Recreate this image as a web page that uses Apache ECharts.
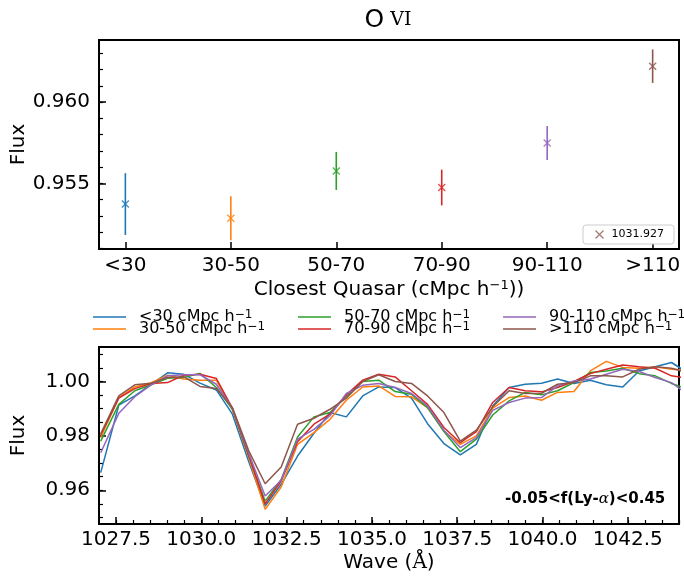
<!DOCTYPE html>
<html>
<head>
<meta charset="utf-8">
<script src="https://cdn.jsdelivr.net/npm/echarts@6/dist/echarts.min.js"></script>
<style>
  html, body { margin: 0; padding: 0; background: #fff; }
  #chart { width: 684px; height: 576px; }
</style>
</head>
<body>
<div id="chart"></div>
<script>
// top panel: flux at 1031.927 per closest-quasar bin
var groups = ['<30', '30-50', '50-70', '70-90', '90-110', '>110'];
var groupFlux = [0.95373, 0.95286, 0.95577, 0.95475, 0.95749, 0.96221];
var groupErr = [0.0019, 0.00135, 0.00117, 0.0011, 0.00105, 0.00103];

// bottom panel: stacked spectra
var wave = [1027.05, 1027.58, 1028.05, 1028.53, 1029.01, 1029.48, 1029.96, 1030.44, 1030.91, 1031.39,
  1031.87, 1032.34, 1032.82, 1033.30, 1033.77, 1034.25, 1034.73, 1035.20, 1035.68, 1036.16,
  1036.63, 1037.11, 1037.59, 1038.06, 1038.54, 1039.02, 1039.49, 1039.97, 1040.44, 1040.92,
  1041.40, 1041.87, 1042.35, 1042.83, 1043.30, 1043.78, 1044.26];
var fluxLt30 = [0.9665, 0.9913, 0.9947, 0.9990, 1.0032, 1.0027, 0.9994, 0.9969, 0.9880, 0.9705,
  0.9542, 0.9622, 0.9726, 0.9810, 0.9886, 0.9870, 0.9947, 0.9980, 0.9978, 0.9939,
  0.9845, 0.9772, 0.9730, 0.9769, 0.9910, 0.9978, 0.9990, 0.9994, 1.0009, 0.9993,
  1.0005, 0.9988, 0.9980, 1.0039, 1.0054, 1.0070, 1.0032];
var flux30_50 = [0.9794, 0.9941, 0.9980, 0.9996, 1.0023, 1.0009, 1.0005, 1.0005, 0.9896, 0.9720,
  0.9530, 0.9612, 0.9769, 0.9812, 0.9861, 0.9931, 0.9980, 0.9984, 0.9945, 0.9944,
  0.9904, 0.9818, 0.9769, 0.9800, 0.9902, 0.9941, 0.9947, 0.9931, 0.9960, 0.9963,
  1.0039, 1.0074, 1.0052, 1.0049, 1.0054, 1.0045, 1.0042];
var flux50_70 = [0.9781, 0.9916, 0.9966, 0.9988, 1.0012, 1.0015, 1.0030, 0.9978, 0.9898, 0.9726,
  0.9560, 0.9640, 0.9796, 0.9870, 0.9886, 0.9947, 1.0000, 1.0005, 0.9963, 0.9953,
  0.9904, 0.9816, 0.9742, 0.9788, 0.9877, 0.9929, 0.9960, 0.9951, 0.9966, 0.9996,
  1.0033, 1.0039, 1.0049, 1.0029, 1.0021, 0.9993, 0.9972];
var flux70_90 = [0.9804, 0.9939, 0.9974, 0.9993, 0.9996, 1.0023, 1.0027, 1.0011, 0.9902, 0.9729,
  0.9550, 0.9634, 0.9779, 0.9843, 0.9880, 0.9951, 1.0005, 1.0027, 1.0017, 0.9966,
  0.9916, 0.9831, 0.9775, 0.9816, 0.9923, 0.9978, 0.9966, 0.9962, 0.9978, 1.0000,
  1.0029, 1.0045, 1.0061, 1.0054, 1.0049, 1.0021, 1.0012];
var flux90_110 = [0.9738, 0.9883, 0.9944, 0.9988, 1.0021, 1.0025, 1.0025, 0.9990, 0.9901, 0.9735,
  0.9579, 0.9637, 0.9788, 0.9824, 0.9874, 0.9956, 0.9986, 0.9993, 0.9978, 0.9956,
  0.9910, 0.9821, 0.9757, 0.9794, 0.9894, 0.9923, 0.9939, 0.9941, 0.9984, 1.0002,
  1.0009, 1.0027, 1.0045, 1.0037, 1.0015, 0.9996, 0.9952];
var fluxGt110 = [0.9808, 0.9947, 0.9988, 0.9994, 1.0015, 1.0018, 0.9982, 0.9974, 0.9904, 0.9745,
  0.9624, 0.9686, 0.9843, 0.9865, 0.9898, 0.9939, 1.0000, 1.0025, 1.0000, 0.9993,
  0.9947, 0.9886, 0.9781, 0.9821, 0.9907, 0.9966, 0.9956, 0.9957, 0.9990, 0.9996,
  1.0021, 1.0021, 1.0017, 1.0045, 1.0054, 1.0049, 1.0032];
var spectra = [fluxLt30, flux30_50, flux50_70, flux70_90, flux90_110, fluxGt110];
var specNames = ['<30 cMpc h', '30-50 cMpc h', '50-70 cMpc h', '70-90 cMpc h', '90-110 cMpc h', '>110 cMpc h'];

// ticks
var topYTicks = [0.955, 0.960];
var topYMinor = [0.951, 0.952, 0.953, 0.954, 0.955, 0.956, 0.957, 0.958, 0.959, 0.960, 0.961, 0.962, 0.963];
var botYTicks = [0.96, 0.98, 1.00];
var botXTicks = [1027.5, 1030.0, 1032.5, 1035.0, 1037.5, 1040.0, 1042.5];

var colors = ['#1f77b4', '#ff7f0e', '#2ca02c', '#d62728', '#9467bd', '#8c564b'];
var FONT = 'DejaVu Sans';
var xMark = 'path://M0,0L10,10M0,10L10,0';

var botYMinor = [];
for (var v = 0.950; v < 1.0126; v += 0.005) botYMinor.push(+v.toFixed(3));
var botXMinor = [];
for (var w = 1027.5; w <= 1044.001; w += 0.5) botXMinor.push(+w.toFixed(1));

var chart = echarts.init(document.getElementById('chart'), null, { renderer: 'canvas' });

var tickStyle = { color: '#000', width: 1.5 };
var minorStyle = { color: '#000', width: 1.2 };

function axis(extra) {
  var a = {
    axisLine: { show: false, onZero: false },
    splitLine: { show: false },
    minorTick: { show: false },
    nameMoveOverlap: false
  };
  for (var k in extra) a[k] = extra[k];
  return a;
}
function minorAxis(pos, gridIndex, min, max, vals) {
  return axis({
    type: 'value', gridIndex: gridIndex, min: min, max: max, position: pos,
    axisLabel: { show: false },
    axisTick: { inside: true, length: 4, lineStyle: minorStyle, customValues: vals }
  });
}

var grids = [
  { left: 99, top: 40, width: 580, height: 209, show: true, borderColor: '#000', borderWidth: 2,
    containLabel: false, outerBoundsMode: 'none' },
  { left: 99, top: 347, width: 580, height: 177, show: true, borderColor: '#000', borderWidth: 2,
    containLabel: false, outerBoundsMode: 'none' }
];

var xAxes = [
  axis({
    type: 'value', gridIndex: 0, min: -0.25, max: 5.25, position: 'bottom',
    name: '{a|Closest Quasar (cMpc h}{s|−1}{a|))}', nameLocation: 'middle', nameGap: 30,
    nameTextStyle: { rich: {
      a: { fontFamily: FONT, fontSize: 20, color: '#000', lineHeight: 22 },
      s: { fontFamily: FONT, fontSize: 13, color: '#000', verticalAlign: 'top', lineHeight: 22 }
    } },
    axisTick: { inside: true, length: 7, lineStyle: tickStyle, customValues: [0, 1, 2, 3, 4, 5] },
    axisLabel: { color: '#000', fontFamily: FONT, fontSize: 20, margin: 7, customValues: [0, 1, 2, 3, 4, 5],
      formatter: function (v) { return groups[Math.round(v)]; } }
  }),
  axis({
    type: 'value', gridIndex: 1, min: 1027, max: 1044, position: 'bottom',
    name: '{a|Wave (}{b|Å}{a|)}', nameLocation: 'middle', nameGap: 29,
    nameTextStyle: { rich: {
      a: { fontFamily: FONT, fontSize: 20, color: '#000' },
      b: { fontFamily: 'DejaVu Serif', fontSize: 20, color: '#000' }
    } },
    axisTick: { inside: true, length: 7, lineStyle: tickStyle, customValues: botXTicks },
    axisLabel: { color: '#000', fontFamily: FONT, fontSize: 20, margin: 6, customValues: botXTicks,
      formatter: function (v) { return v.toFixed(1); } }
  }),
  minorAxis('bottom', 1, 1027, 1044, botXMinor)
];

var yAxes = [
  axis({
    type: 'value', gridIndex: 0, min: 0.95097, max: 0.96382, position: 'left',
    name: 'Flux', nameLocation: 'middle', nameGap: 70,
    nameTextStyle: { fontFamily: FONT, fontSize: 20, color: '#000' },
    axisTick: { inside: true, length: 7, lineStyle: tickStyle, customValues: topYTicks },
    axisLabel: { color: '#000', fontFamily: FONT, fontSize: 20, margin: 9, customValues: topYTicks,
      formatter: function (v) { return v.toFixed(3); } }
  }),
  axis({
    type: 'value', gridIndex: 1, min: 0.9476, max: 1.0127, position: 'left',
    name: 'Flux', nameLocation: 'middle', nameGap: 70,
    nameTextStyle: { fontFamily: FONT, fontSize: 20, color: '#000' },
    axisTick: { inside: true, length: 7, lineStyle: tickStyle, customValues: botYTicks },
    axisLabel: { color: '#000', fontFamily: FONT, fontSize: 20, margin: 9, customValues: botYTicks,
      formatter: function (v) { return v.toFixed(2); } }
  }),
  minorAxis('left', 0, 0.95097, 0.96382, topYMinor),
  minorAxis('left', 1, 0.9476, 1.0127, botYMinor)
];

var series = [];

// error bars
series.push({
  type: 'custom',
  name: 'err',
  xAxisIndex: 0, yAxisIndex: 0,
  data: groups.map(function (g, i) { return [i, groupFlux[i], groupErr[i]]; }),
  encode: { x: 0, y: 1 },
  renderItem: function (params, api) {
    var x = api.value(0), y = api.value(1), e = api.value(2);
    var p1 = api.coord([x, y - e]);
    var p2 = api.coord([x, y + e]);
    return {
      type: 'line',
      shape: { x1: p1[0], y1: p1[1], x2: p2[0], y2: p2[1] },
      style: { stroke: colors[params.dataIndex], lineWidth: 1.6 }
    };
  },
  silent: true
});

// x markers
series.push({
  type: 'scatter',
  name: '1031.927',
  xAxisIndex: 0, yAxisIndex: 0,
  symbol: xMark,
  symbolSize: 7,
  itemStyle: { color: 'none', borderColor: colors[5], borderWidth: 1.4 },
  data: groups.map(function (g, i) {
    return { value: [i, groupFlux[i]], itemStyle: { color: 'none', borderColor: colors[i], borderWidth: 1.4 } };
  }),
  z: 5
});

// spectra
spectra.forEach(function (arr, si) {
  series.push({
    type: 'line',
    name: specNames[si],
    xAxisIndex: 1, yAxisIndex: 1,
    symbol: 'none',
    showSymbol: false,
    lineStyle: { color: colors[si], width: 1.5 },
    itemStyle: { color: colors[si] },
    data: wave.map(function (w, k) { return [w, arr[k]]; })
  });
});

var legends = [{
  data: [{ name: '1031.927', icon: xMark, itemStyle: { color: 'none', borderColor: colors[5], borderWidth: 1.2 } }],
  left: 583, top: 225,
  itemWidth: 8, itemHeight: 8,
  padding: [3, 10, 3, 10],
  backgroundColor: '#fff',
  borderColor: '#cccccc', borderWidth: 1, borderRadius: 3,
  textStyle: { fontFamily: FONT, fontSize: 11, color: '#000', lineHeight: 12, padding: [0, 0, 0, 3] },
  selectedMode: false
}];

var legendPos = [[93, 309], [93, 321], [298, 309], [298, 321], [503, 309], [503, 321]];
specNames.forEach(function (n, i) {
  legends.push({
    data: [{ name: n, icon: 'rect', itemStyle: { color: colors[i] } }],
    left: legendPos[i][0], top: legendPos[i][1],
    itemWidth: 33, itemHeight: 1.6,
    padding: 0,
    selectedMode: false,
    formatter: function (name) { return '{a|' + name + '}{s|−1}'; },
    textStyle: {
      color: '#000', padding: [0, 0, 0, 8],
      rich: {
        a: { fontFamily: FONT, fontSize: 16, color: '#000', lineHeight: 16 },
        s: { fontFamily: FONT, fontSize: 12, color: '#000', verticalAlign: 'top', lineHeight: 16 }
      }
    }
  });
});

var option = {
  animation: false,
  backgroundColor: '#fff',
  title: {
    text: '{o|O}{v| VI}',
    left: 383, top: 3, textAlign: 'center',
    textStyle: { rich: {
      o: { fontFamily: FONT, fontSize: 25, fontWeight: 'normal', color: '#000' },
      v: { fontFamily: 'DejaVu Serif', fontSize: 19, fontWeight: 'normal', color: '#000' }
    } }
  },
  grid: grids,
  xAxis: xAxes,
  yAxis: yAxes,
  legend: legends,
  series: series,
  graphic: [{
    type: 'text',
    left: 505, top: 492,
    style: {
      text: '{a|-0.05<f(Ly-}{b|α}{a|)<0.45}',
      rich: {
        a: { fontFamily: FONT, fontSize: 15, fontWeight: 'bold', fill: '#000' },
        b: { fontFamily: 'DejaVu Serif', fontSize: 15, fontStyle: 'italic', fill: '#000' }
      }
    }
  }]
};

chart.setOption(option);
</script>
</body>
</html>
